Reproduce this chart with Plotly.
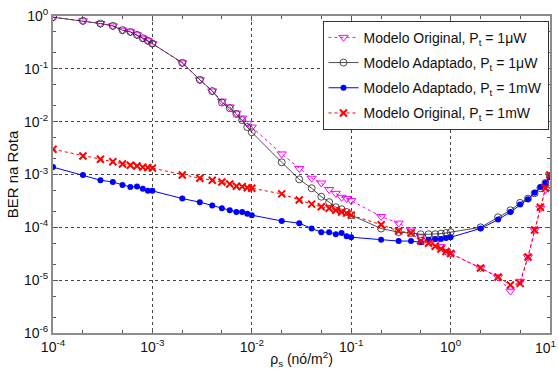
import plotly.graph_objects as go

rho = [1e-4, 2e-4, 3e-4, 4e-4, 5e-4, 6e-4, 7e-4, 8e-4, 9e-4,
       1e-3, 2e-3, 3e-3, 4e-3, 5e-3, 6e-3, 7e-3, 8e-3, 9e-3,
       1e-2, 2e-2, 3e-2, 4e-2, 5e-2, 6e-2, 7e-2, 8e-2, 9e-2,
       0.1, 0.2, 0.3, 0.4, 0.5, 0.6, 0.7, 0.8, 0.9,
       1, 2, 3, 4, 5, 6, 7, 8, 9, 10]

orig_uW = [0.95, 0.81, 0.72, 0.65, 0.54, 0.50, 0.44, 0.38, 0.34,
           0.30, 0.13, 0.062, 0.038, 0.0245, 0.019, 0.0145, 0.0117, 0.0093,
           0.0079, 0.00245, 0.0013, 8.5e-4, 6.9e-4, 5.2e-4, 4.4e-4, 3.7e-4, 3.5e-4,
           3.2e-4, 1.6e-4, 1.2e-4, 8.9e-5, 6.6e-5, 5.8e-5, 5.0e-5, 4.3e-5, 3.5e-5,
           3.2e-5, 1.7e-5, 1.15e-5, 6.2e-6, 9.5e-6, 2.75e-5, 8.9e-5, 2.3e-4, 5.2e-4, 9.8e-4]

adap_uW = [0.95, 0.81, 0.72, 0.65, 0.54, 0.50, 0.44, 0.38, 0.34,
           0.30, 0.13, 0.062, 0.038, 0.023, 0.018, 0.014, 0.0107, 0.0079,
           0.0063, 0.0017, 8.1e-4, 5.5e-4, 3.8e-4, 3.0e-4, 2.4e-4, 2.2e-4, 1.95e-4,
           1.7e-4, 9.5e-5, 8.1e-5, 7.8e-5, 7.4e-5, 7.4e-5, 7.4e-5, 7.6e-5, 7.8e-5,
           8.1e-5, 1.0e-4, 1.55e-4, 2.1e-4, 2.9e-4, 3.5e-4, 4.4e-4, 5.5e-4, 6.9e-4, 9.3e-4]

adap_mW = [1.38e-3, 9.8e-4, 7.8e-4, 7.2e-4, 6.3e-4, 5.8e-4, 5.9e-4, 5.4e-4, 4.9e-4,
           4.9e-4, 3.5e-4, 3.0e-4, 2.6e-4, 2.3e-4, 2.1e-4, 1.95e-4, 1.95e-4, 1.8e-4,
           1.7e-4, 1.32e-4, 1.2e-4, 9.5e-5, 8.1e-5, 8.1e-5, 7.4e-5, 7.8e-5, 6.8e-5,
           6.5e-5, 5.8e-5, 5.5e-5, 5.5e-5, 5.2e-5, 5.8e-5, 6.0e-5, 6.0e-5, 6.3e-5,
           6.5e-5, 9.5e-5, 1.4e-4, 1.95e-4, 2.7e-4, 3.4e-4, 4.5e-4, 5.8e-4, 6.9e-4, 8.9e-4]

orig_mW = [3.0e-3, 2.24e-3, 1.95e-3, 1.74e-3, 1.58e-3, 1.5e-3, 1.45e-3, 1.38e-3, 1.35e-3,
           1.32e-3, 9.8e-4, 8.5e-4, 7.8e-4, 7.2e-4, 6.6e-4, 6.0e-4, 5.9e-4, 5.6e-4,
           5.5e-4, 4.3e-4, 3.3e-4, 2.75e-4, 2.45e-4, 2.3e-4, 2.1e-4, 1.95e-4, 1.86e-4,
           1.7e-4, 1.12e-4, 8.5e-5, 7.8e-5, 5.5e-5, 5.0e-5, 4.4e-5, 3.9e-5, 3.5e-5,
           3.2e-5, 1.7e-5, 1.15e-5, 8.1e-6, 8.7e-6, 2.75e-5, 8.9e-5, 2.4e-4, 5.5e-4, 9.8e-4]

x_ticks = [1e-4, 1e-3, 1e-2, 1e-1, 1, 10]
x_labels = ["10<sup>-4</sup>", "10<sup>-3</sup>", "10<sup>-2</sup>", "10<sup>-1</sup>",
            "10<sup>0</sup>", ""]
x_last_label = "10<sup>1</sup>"   # drawn as annotation so it stays inside the page
y_ticks = [1e-6, 1e-5, 1e-4, 1e-3, 1e-2, 1e-1, 1]
y_labels = ["10<sup>-6</sup>", "10<sup>-5</sup>", "10<sup>-4</sup>", "10<sup>-3</sup>",
            "10<sup>-2</sup>", "10<sup>-1</sup>", "10<sup>0</sup>"]

FONT = "Liberation Sans, Arial"

fig = go.Figure()
fig.add_trace(go.Scatter(
    x=rho, y=orig_uW, mode="lines+markers", legendgroup="a",
    name="Modelo Original, P<sub>t</sub> = 1μW",
    line=dict(color="#ff00ff", width=1, dash="dot"),
    marker=dict(symbol="triangle-down-open", size=8, color="#ff00ff", line=dict(width=1))))
fig.add_trace(go.Scatter(
    x=rho, y=adap_uW, mode="lines+markers", legendgroup="b",
    name="Modelo Adaptado, P<sub>t</sub> = 1μW",
    line=dict(color="#222222", width=0.8),
    marker=dict(symbol="circle-open", size=7, color="#222222", line=dict(width=0.8))))
fig.add_trace(go.Scatter(
    x=rho, y=adap_mW, mode="lines+markers", legendgroup="c",
    name="Modelo Adaptado, P<sub>t</sub> = 1mW",
    line=dict(color="#0000ff", width=1),
    marker=dict(symbol="circle", size=6, color="#0000ff")))
fig.add_trace(go.Scatter(
    x=rho, y=orig_mW, mode="lines+markers", legendgroup="d",
    name="Modelo Original, P<sub>t</sub> = 1mW",
    line=dict(color="#ff0000", width=1, dash="dot"),
    marker=dict(symbol="x-thin-open", size=7, color="#ff0000", line=dict(width=2, color="#ff0000"))))

axis_common = dict(
    type="log", showline=True, mirror="ticks", linecolor="#8c8c8c", linewidth=2,
    ticks="inside", ticklen=5, tickcolor="#555555",
    showgrid=True, gridcolor="#444444", griddash="dot", gridwidth=1,
    zeroline=False, tickfont=dict(family=FONT, size=14, color="#111111"),
    ticklabeloverflow="allow", automargin=False,
    minor=dict(ticks="inside", ticklen=3, tickcolor="#555555", showgrid=False),
)

fig.update_xaxes(**axis_common, range=[-4, 1], tickvals=x_ticks, ticktext=x_labels,
                 title=dict(text="ρ<sub>s</sub> (nó/m<sup>2</sup>)", standoff=0,
                            font=dict(family=FONT, size=14, color="#111111")))
fig.update_yaxes(**axis_common, range=[-6, 0], tickvals=y_ticks, ticktext=y_labels,
                 title=dict(text="BER na Rota", standoff=2,
                            font=dict(family=FONT, size=15, color="#111111")))

fig.add_annotation(
    x=1, xref="x", y=0, yref="paper", text=x_last_label, showarrow=False,
    xanchor="right", yanchor="top", xshift=7, yshift=-4, borderpad=0,
    font=dict(family=FONT, size=14, color="#111111"))

fig.update_layout(
    width=558, height=376,
    margin=dict(l=53, r=8, t=16, b=43),
    paper_bgcolor="white", plot_bgcolor="white",
    font=dict(family=FONT, size=14, color="#111111"),
    legend=dict(x=0.997, y=0.985, xanchor="right", yanchor="top",
                bgcolor="white", bordercolor="#333333", borderwidth=1,
                font=dict(family=FONT, size=14), tracegroupgap=4, itemwidth=30),
    showlegend=True,
)

fig.write_html("out.html")
